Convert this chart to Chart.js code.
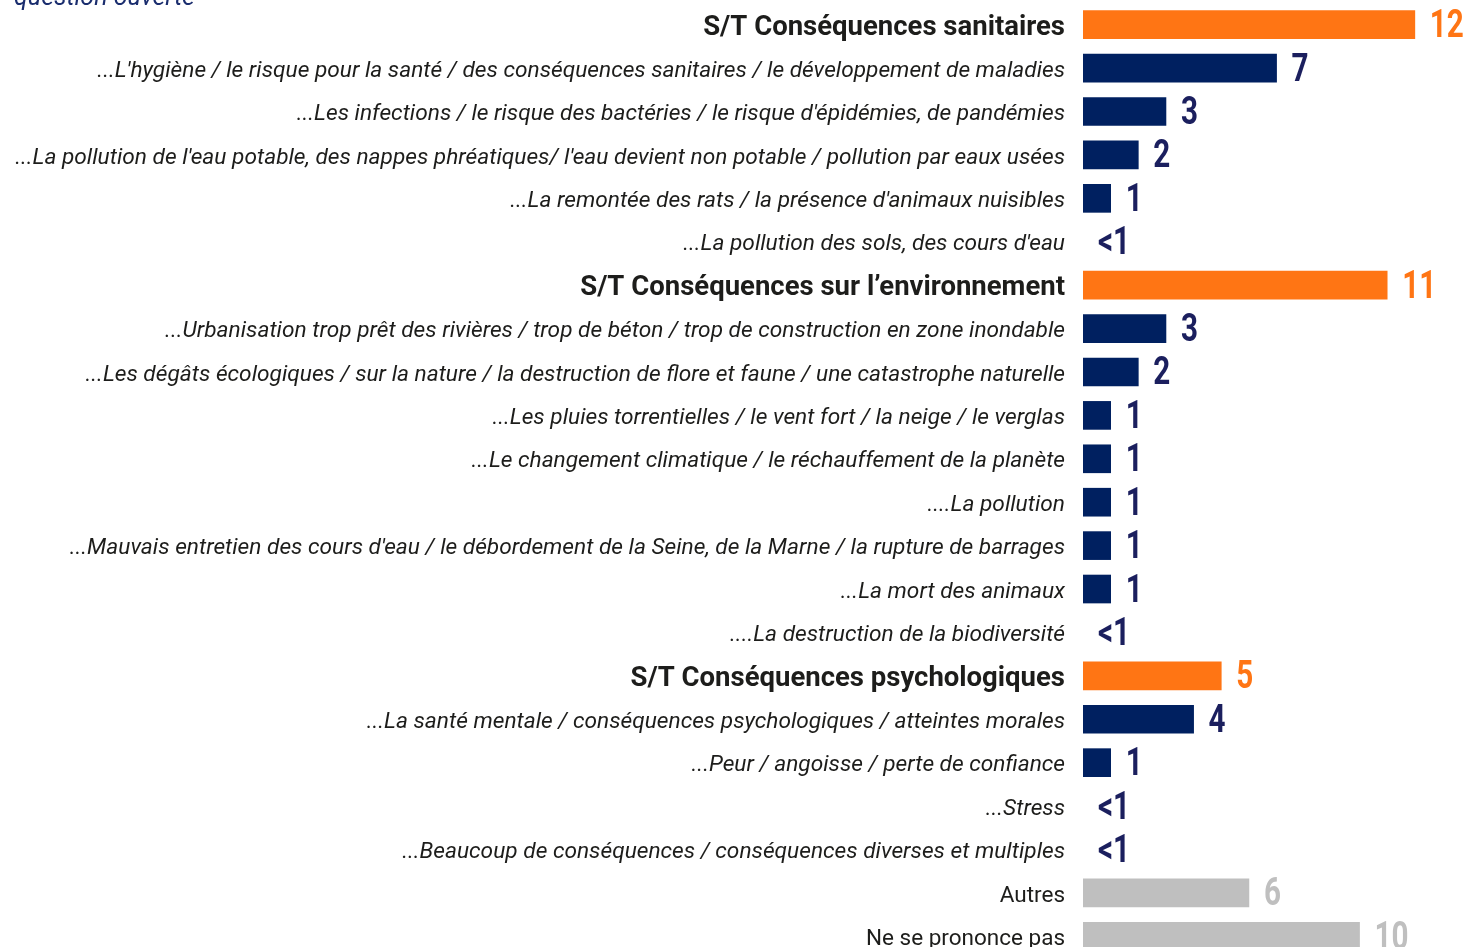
<!DOCTYPE html>
<html>
<head>
<meta charset="utf-8">
<script src="https://cdn.jsdelivr.net/npm/chart.js@4.4.0/dist/chart.umd.min.js"></script>
<style>
  html, body { margin: 0; padding: 0; background: #fff; overflow: hidden; }
  #wrap { position: relative; width: 1466px; height: 960px; }
  #note { position: absolute; left: 14px; top: -18px; line-height: 25px; font: italic 25px Roboto, sans-serif; color: #1a2d6e; }
</style>
</head>
<body>
<div id="wrap">
  <div id="note">question ouverte</div>
  <canvas id="chart"></canvas>
</div>
<script>
// Categories (S/T = sous-total)
const categories = [
    'S/T Conséquences sanitaires',
    "...L'hygiène / le risque pour la santé / des conséquences sanitaires / le développement de maladies",
    "...Les infections / le risque des bactéries / le risque d'épidémies, de pandémies",
    "...La pollution de l'eau potable, des nappes phréatiques/ l'eau devient non potable / pollution par eaux usées",
    "...La remontée des rats / la présence d'animaux nuisibles",
    "...La pollution des sols, des cours d'eau",
    'S/T Conséquences sur l\u2019environnement',
    '...Urbanisation trop prêt des rivières / trop de béton / trop de construction en zone inondable',
    '...Les dégâts écologiques / sur la nature / la destruction de flore et faune / une catastrophe naturelle',
    '...Les pluies torrentielles / le vent fort / la neige / le verglas',
    '...Le changement climatique / le réchauffement de la planète',
    '....La pollution',
    "...Mauvais entretien des cours d'eau / le débordement de la Seine, de la Marne / la rupture de barrages",
    '...La mort des animaux',
    '....La destruction de la biodiversité',
    'S/T Conséquences psychologiques',
    '...La santé mentale / conséquences psychologiques / atteintes morales',
    '...Peur / angoisse / perte de confiance',
    '...Stress',
    '...Beaucoup de conséquences / conséquences diverses et multiples',
    'Autres',
    'Ne se prononce pas'
];

// Row kind: 'st' sous-total, 'sub' detail, 'other'
const rowKinds = ['st','sub','sub','sub','sub','sub','st','sub','sub','sub','sub','sub','sub','sub','sub','st','sub','sub','sub','sub','other','other'];

// Values (%), "<1" drawn as 0
const values = [12, 7, 3, 2, 1, 0, 11, 3, 2, 1, 1, 1, 1, 1, 0, 5, 4, 1, 0, 0, 6, 10];
const valueLabels = ['12','7','3','2','1','<1','11','3','2','1','1','1','1','1','<1','5','4','1','<1','<1','6','10'];

const ORANGE = '#ff7514';
const NAVY = '#002060';
const NAVY_TXT = '#1b1f5e';
const GREY = '#bfbfbf';

const barColors = rowKinds.map((k, i) => values[i] === 0 ? 'rgba(0,0,0,0)'
    : (k === 'st' ? ORANGE : (k === 'sub' ? NAVY : GREY)));
const labelColors = rowKinds.map(k => k === 'st' ? ORANGE : (k === 'sub' ? NAVY_TXT : GREY));

// Draws the value next to each bar (condensed bold digits)
const valuePlugin = {
    id: 'valueLabels',
    afterDatasetsDraw(chart) {
        const ctx = chart.ctx;
        const meta = chart.getDatasetMeta(0);
        meta.data.forEach((bar, i) => {
            ctx.save();
            ctx.translate(bar.x + 15, bar.y + 3);
            ctx.scale(0.78, 1);
            ctx.textBaseline = 'middle';
            ctx.textAlign = 'left';
            ctx.font = 'bold 38px Roboto, sans-serif';
            ctx.fillStyle = labelColors[i];
            ctx.fillText(valueLabels[i], 0, 0);
            ctx.restore();
        });
    }
};

new Chart(document.getElementById('chart'), {
    type: 'bar',
    data: {
        labels: categories,
        datasets: [{
            data: values,
            backgroundColor: barColors,
            borderWidth: 0,
            barThickness: 28
        }]
    },
    options: {
        indexAxis: 'y',
        responsive: true,
        maintainAspectRatio: false,
        animation: false,
        layout: { padding: { top: 3, bottom: 2, left: 0, right: 0 } },
        plugins: {
            legend: { display: false },
            tooltip: { enabled: false }
        },
        scales: {
            x: {
                display: false,
                min: 0,
                max: 13.85
            },
            y: {
                afterFit(scale) {
                    scale.width = 1083;
                    scale.paddingTop = 0;
                    scale.paddingBottom = 0;
                },
                grid: { display: false, drawTicks: false },
                border: { display: false },
                ticks: {
                    padding: 18,
                    labelOffset: 3,
                    autoSkip: false,
                    color: '#1d1d1b',
                    font: (c) => rowKinds[c.index] === 'st'
                        ? { family: 'Roboto', size: 27.5, weight: 'bold' }
                        : (rowKinds[c.index] === 'sub'
                            ? { family: 'Roboto', size: 22.7, style: 'italic' }
                            : { family: 'Roboto', size: 22.5 })
                }
            }
        }
    },
    plugins: [valuePlugin]
});
</script>
</body>
</html>
